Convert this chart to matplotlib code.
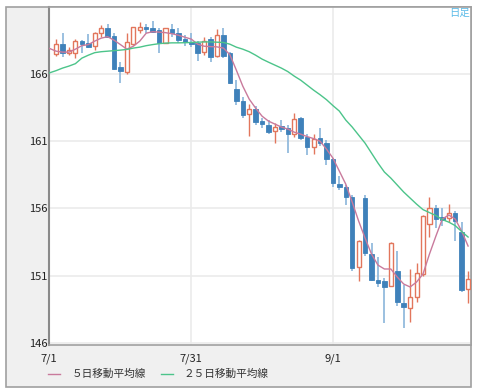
import matplotlib
matplotlib.use("Agg")
import matplotlib.pyplot as plt
from matplotlib.patches import Rectangle
from matplotlib.lines import Line2D
import numpy as np

plt.rcParams['font.family'] = ['Noto Sans CJK JP', 'DejaVu Sans']

# daily candles (trading-day index 0..64)
opens = [167.49, 168.23, 167.60, 167.60, 168.48, 168.33, 168.08, 169.03, 169.40, 168.83,
         166.54, 166.17, 168.21, 169.27, 169.48, 169.40, 169.27, 168.35, 169.33, 169.10,
         168.61, 168.36, 168.33, 167.66, 168.58, 167.34, 168.94, 167.54, 164.92, 163.99,
         163.02, 163.37, 162.52, 162.20, 161.76, 162.13, 161.96, 161.51, 162.72, 161.29,
         160.54, 161.21, 160.86, 159.65, 157.81, 157.61, 156.87, 151.63, 156.81, 152.60,
         150.67, 150.59, 150.26, 151.34, 148.99, 148.56, 149.38, 151.08, 154.81, 156.00,
         155.33, 155.26, 155.68, 154.24, 149.97]
highs = [168.60, 169.09, 168.00, 168.64, 168.53, 169.01, 169.15, 169.65, 169.70, 169.03,
         166.92, 169.10, 169.50, 169.85, 169.77, 169.97, 169.40, 169.45, 169.72, 169.40,
         168.90, 169.05, 168.48, 168.75, 168.73, 169.39, 169.40, 167.67, 165.59, 164.33,
         163.77, 163.66, 162.76, 162.58, 162.33, 162.58, 162.20, 163.10, 162.82, 161.53,
         161.57, 161.96, 161.09, 159.73, 158.41, 157.74, 156.99, 153.64, 156.99, 153.42,
         152.42, 150.79, 153.53, 152.85, 150.30, 151.49, 151.93, 155.51, 156.87, 156.25,
         156.00, 156.32, 155.83, 155.00, 151.34]
lows = [167.34, 167.29, 167.41, 167.23, 167.59, 167.91, 167.79, 168.78, 168.73, 166.30,
        165.31, 166.00, 168.16, 169.03, 169.03, 169.03, 167.54, 168.29, 168.78, 168.29,
        168.08, 168.00, 167.00, 167.41, 166.92, 167.24, 167.19, 165.29, 163.73, 162.72,
        161.39, 162.20, 161.98, 161.53, 160.84, 161.68, 160.16, 161.33, 161.09, 159.97,
        160.08, 160.68, 159.23, 157.59, 157.37, 156.25, 151.37, 150.61, 152.45, 150.61,
        150.17, 147.50, 150.22, 148.73, 147.07, 147.56, 149.05, 150.96, 153.89, 154.52,
        154.69, 154.98, 153.57, 149.80, 148.95]
closes = [168.23, 167.60, 167.79, 168.46, 168.23, 168.03, 169.03, 169.40, 168.78, 166.42,
          166.22, 168.36, 169.48, 169.52, 169.33, 169.15, 168.33, 169.40, 169.09, 168.51,
          168.36, 168.23, 167.54, 168.48, 167.29, 168.90, 167.34, 165.35, 163.97, 162.95,
          163.37, 162.45, 162.28, 161.71, 162.08, 161.88, 161.53, 162.69, 161.24, 160.54,
          161.14, 160.90, 159.65, 157.86, 157.61, 156.88, 151.60, 153.57, 152.65, 150.67,
          150.48, 150.17, 153.44, 149.01, 148.66, 149.42, 151.17, 155.43, 156.00, 155.18,
          155.13, 155.63, 155.08, 149.92, 150.72]

# moving averages (index -1..64)
ma5 = [167.91, 167.71, 167.64, 167.64, 167.86, 168.12, 168.20, 168.46, 168.68, 168.79,
       168.53, 168.20, 167.86, 168.08, 168.46, 169.05, 169.16, 169.13, 169.09, 169.01,
       168.90, 168.75, 168.61, 168.23, 168.08, 168.05, 168.03, 167.94, 167.45, 166.30,
       165.11, 164.14, 163.47, 162.87, 162.50, 162.28, 162.06, 161.91, 161.68, 161.53,
       161.35, 161.20, 161.01, 160.42, 159.75, 158.78, 157.81, 156.47, 155.06, 153.79,
       152.60, 151.78, 151.49, 151.49, 150.89, 150.37, 150.15, 150.52, 151.12, 152.60,
       153.94, 155.21, 155.51, 155.21, 154.31, 153.20]
ma25 = [166.10, 166.26, 166.45, 166.60, 166.78, 167.19, 167.41, 167.60, 167.67, 167.71,
        167.75, 167.79, 167.84, 167.94, 168.01, 168.12, 168.20, 168.27, 168.31, 168.33,
        168.33, 168.34, 168.36, 168.38, 168.40, 168.40, 168.38, 168.36, 168.23, 168.01,
        167.86, 167.67, 167.41, 167.12, 166.89, 166.67, 166.45, 166.19, 165.85, 165.55,
        165.18, 164.81, 164.47, 164.10, 163.66, 163.25, 162.58, 162.06, 161.46, 160.86,
        160.12, 159.38, 158.71, 158.26, 157.74, 157.22, 156.77, 156.32, 155.91, 155.69,
        155.47, 155.17, 154.98, 154.72, 154.28, 153.87]

date_ticks = [-1.1, 21, 43]
date_labels = ['7/1', '7/31', '9/1']
y_ticks = [146, 151, 156, 161, 166]

W, H = 478, 392
fig = plt.figure(figsize=(W / 100, H / 100), dpi=100)
fig.patch.set_facecolor('white')

# grey frame around everything (background axes)
bg = fig.add_axes([0, 0, 1, 1], zorder=-5)
bg.set_xlim(0, W)
bg.set_ylim(H, 0)
bg.axis('off')
bg.add_patch(Rectangle((6.5, 7), 465, 379.5, facecolor='#f0f0f0',
                       edgecolor='#a0a0a0', lw=1.2))

ax = fig.add_axes([49 / W, 1 - 345 / H, 422.3 / W, 338 / H], zorder=1)
ax.set_facecolor('white')

x = np.arange(len(opens))
o = np.array(opens); c = np.array(closes)
up = c >= o
red = '#e2765c'
blue = '#3f81ba'
blue_wick = '#93bbdd'

# wicks
ax.vlines(x[up], np.array(lows)[up], np.array(highs)[up], color=red, lw=1, zorder=3)
ax.vlines(x[~up], np.array(lows)[~up], np.array(highs)[~up], color=blue_wick, lw=1.3, zorder=3)

# bodies
body = np.maximum(np.abs(c - o), 0.08)
bottom = np.minimum(o, c)
ax.bar(x[up], body[up], bottom=bottom[up], width=0.64, facecolor='white',
       edgecolor=red, lw=1, zorder=4)
ax.bar(x[~up], body[~up], bottom=bottom[~up], width=0.7, facecolor=blue,
       edgecolor=blue, lw=0.6, zorder=4)

xm = np.arange(-1, len(opens))
ax.plot(xm, ma5, color='#c97a9c', lw=1, zorder=5)
ax.plot(xm, ma25, color='#4cc48a', lw=1, zorder=5)

ax.set_xlim(-1.1, 64.5)
ax.set_ylim(145.83, 171.0)

ax.set_yticks(y_ticks)
ax.set_yticklabels([str(v) for v in y_ticks])
ax.set_xticks(date_ticks)
ax.set_xticklabels(date_labels)
ax.tick_params(axis='both', length=0, labelsize=8, colors='#222222')
ax.tick_params(axis='y', pad=1)
ax.tick_params(axis='x', pad=6)

ax.grid(True, color='#ebebeb', lw=1.2, zorder=0)
ax.set_axisbelow(True)

for s in ['top', 'right', 'bottom']:
    ax.spines[s].set_color('#a0a0a0')
    ax.spines[s].set_linewidth(1.2)
ax.spines['left'].set_color('#8a8a8a')
ax.spines['left'].set_linewidth(1.5)

# legend drawn in the bottom strip
ly = 1 - 374 / H
fig.add_artist(Line2D([48 / W, 60 / W], [ly, ly], color='#c97a9c', lw=1, transform=fig.transFigure))
fig.text(72 / W, ly, '５日移動平均線', fontsize=7.7, color='#333333', va='center', ha='left')
fig.add_artist(Line2D([161 / W, 173 / W], [ly, ly], color='#4cc48a', lw=1, transform=fig.transFigure))
fig.text(184 / W, ly, '２５日移動平均線', fontsize=7.7, color='#333333', va='center', ha='left')

fig.text(470 / W, 1 - 13 / H, '日足', fontsize=7.5, color='#5bbbe8', va='center', ha='right')

fig.savefig('out.png', dpi=100)
